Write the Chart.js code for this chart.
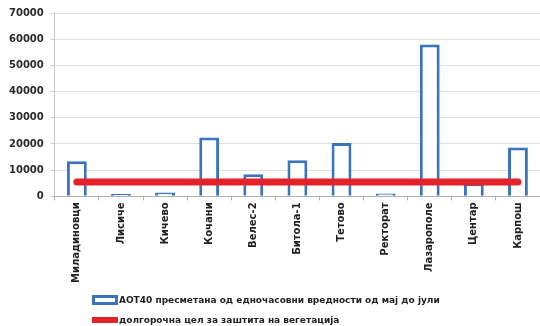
<!DOCTYPE html>
<html>
<head>
<meta charset="utf-8">
<script src="https://cdn.jsdelivr.net/npm/chart.js@4/dist/chart.umd.min.js"></script>
<style>
    html, body { margin: 0; padding: 0; background: #fff; }
    #wrap { position: relative; width: 540px; height: 326px; }
    #chart { position: absolute; left: 0; top: 0; }
    .legend-row {
        position: absolute;
        left: 92px;
        height: 14px;
        display: flex;
        align-items: center;
        font: bold 9px "DejaVu Sans", sans-serif;
        color: #222;
        white-space: nowrap;
    }
    .swatch-bar { width: 20px; height: 4px; border: 3px solid #3a74bf; background: #fff; margin-right: 1px; }
    .swatch-line { width: 26px; height: 6px; background: #e3222a; margin-right: 1px; }
</style>
</head>
<body>
<div id="wrap">
    <canvas id="chart" width="540" height="326"></canvas>
    <div class="legend-row" style="top:293px"><span class="swatch-bar"></span><span id="lbl0"></span></div>
    <div class="legend-row" style="top:313px"><span class="swatch-line"></span><span id="lbl1"></span></div>
</div>
<script>
// Data
const stations = ['Миладиновци', 'Лисиче', 'Кичево', 'Кочани', 'Велес-2', 'Битола-1',
    'Тетово', 'Ректорат', 'Лазарополе', 'Центар', 'Карпош'];
const aot40 = [13400, 900, 1500, 22500, 8400, 13800, 20400, 1100, 58000, 5000, 18700];
const target = [5500, 5500, 5500, 5500, 5500, 5500, 5500, 5500, 5500, 5500, 5500];
const yTicks = [0, 10000, 20000, 30000, 40000, 50000, 60000, 70000];
const seriesNames = ['АОТ40 пресметана од едночасовни вредности од мај до јули',
    'долгорочна цел за заштита на вегетација'];

const BLUE = '#3a74bf';
const RED = '#e3222a';

document.getElementById('lbl0').textContent = seriesNames[0];
document.getElementById('lbl1').textContent = seriesNames[1];

new Chart(document.getElementById('chart'), {
    data: {
        labels: stations,
        datasets: [
            {
                type: 'line',
                label: seriesNames[1],
                data: target,
                borderColor: RED,
                borderWidth: 7,
                borderCapStyle: 'round',
                pointRadius: 0,
                order: 0
            },
            {
                type: 'bar',
                label: seriesNames[0],
                data: aot40,
                backgroundColor: '#fff',
                borderColor: BLUE,
                borderWidth: 3,
                categoryPercentage: 1,
                barPercentage: 0.45,
                order: 1
            }
        ]
    },
    options: {
        responsive: false,
        animation: false,
        layout: { padding: { top: 12, right: 0, bottom: 41, left: 2 } },
        plugins: {
            legend: { display: false },
            tooltip: { enabled: false }
        },
        scales: {
            y: {
                min: yTicks[0],
                max: yTicks[yTicks.length - 1],
                afterBuildTicks: function (axis) {
                    axis.ticks = yTicks.map(v => ({ value: v }));
                },
                ticks: {
                    color: '#2a2a2a',
                    font: { family: 'DejaVu Sans', size: 10, weight: 'bold' },
                    padding: 7,
                    callback: function (value) {
                        return String(value);
                    }
                },
                grid: { color: '#e0e0e0', tickLength: 4, tickColor: '#c8c8c8' },
                border: { color: '#c8c8c8' }
            },
            x: {
                offset: true,
                ticks: {
                    color: '#222',
                    minRotation: 90,
                    maxRotation: 90,
                    autoSkip: false,
                    font: { family: 'DejaVu Sans', size: 10, weight: 'bold' },
                    padding: 2
                },
                grid: {
                    offset: true,
                    drawOnChartArea: false,
                    tickLength: 4,
                    tickColor: '#b0b0b0'
                },
                border: { color: '#b0b0b0' }
            }
        }
    }
});
</script>
</body>
</html>
